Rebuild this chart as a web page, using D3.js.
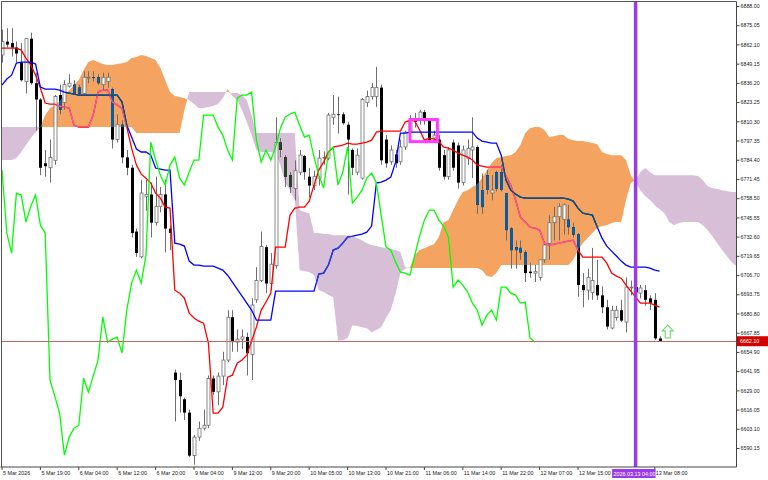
<!DOCTYPE html>
<html><head><meta charset="utf-8">
<script src="https://cdn.jsdelivr.net/npm/d3@7"></script>
<style>html,body{margin:0;padding:0;background:#fff;}svg{display:block;}</style>
</head><body>
<svg id="chart" width="768" height="480"></svg>
<script>
// ---------- DATA (hourly bars, 5 Mar 2026 11:00 .. 13 Mar 2026 09:00) ----------
const openP=[6855,6864,6863,6860,6850,6837,6866,6836,6825,6782,6779,6784,6828,6823,6834,6835,6833,6829,6839.5,6840,6840,6835,6837,6832,6798,6808,6786,6779,6736,6719,6759.5,6761,6742,6753,6761,6738,6641,6636,6623,6614,6585,6597.5,6603.5,6605.5,6637,6628,6638.6,6649.4,6678.3,6661.5,6663.5,6665,6653,6690,6703,6725.5,6701,6713,6796,6786,6774,6765,6776,6787,6773,6767,6772,6785.5,6785.5,6813,6815,6815,6808,6791,6776,6772,6823,6827,6827,6833,6798,6783,6788,6783,6793,6803,6812.5,6811,6816.5,6811,6799,6798,6787.5,6773,6796,6794,6769,6785.5,6791,6793,6764,6774,6762,6776,6776,6762,6738,6725.5,6725,6722,6709,6708,6705,6717,6728,6742,6746,6744,6744,6739,6734,6700,6696.5,6695,6700,6693,6685,6671,6678,6683,6675,6698,6698.6,6694.5,6696.5,6691,6690,6664];
const highP=[6872,6873,6873,6864,6863,6866,6870,6843,6826,6791,6798,6828,6835,6838,6842,6838,6835,6844,6844,6844,6842,6843,6843,6833,6815,6811,6791,6781,6738,6771,6771,6769,6773,6766,6771,6740,6643,6641,6624,6616,6599,6608,6616,6639,6639,6641,6655,6683,6683,6670,6670,6668,6691,6712,6736,6727,6721.5,6813,6799,6787.5,6776,6784,6791,6787.5,6779,6777,6791,6790,6816,6828,6827,6816.5,6810,6792,6792,6826,6831,6836,6847,6835,6801,6794,6791,6798,6804,6814.5,6816,6818,6818,6812.5,6804,6801,6791,6793,6798,6796,6794,6798,6813,6794,6775,6777.5,6774,6777,6781,6762,6739,6730,6730,6723.5,6715,6713.5,6717,6728,6747,6752.5,6755,6755,6754,6742,6735,6708,6711,6725,6717,6699,6690,6686,6686,6690,6705,6703,6703,6700,6700,6693,6694.5,6665.5];
const lowP=[6850,6860,6854,6850,6837,6829,6835,6804,6774,6773,6769,6781,6815,6818,6833,6828,6828,6828,6836,6837,6835,6831,6833,6792,6796,6782,6774,6732,6719,6718,6750,6732,6740,6749,6722,6723.5,6608,6614,6609,6584,6579,6595,6602,6603.5,6626,6619,6632.5,6648,6655,6655,6657,6639,6636,6688,6702,6694.5,6696.5,6711,6786,6766,6762,6757,6774,6771,6759,6764,6767,6781,6784,6808,6802,6808,6761,6774,6774,6771,6820,6825,6820,6781,6779,6781,6779,6781,6791,6802,6806,6808,6808,6796,6796,6777,6771,6771,6777,6765,6767,6781,6772,6748,6748,6761,6757,6763,6763,6730,6711,6711,6717,6702,6705,6702,6703,6715,6717,6730,6730,6734,6734,6732,6692,6685,6690,6690,6690,6681,6670,6670,6676,6675,6668,6693,6690,6691,6686,6683,6663,6661.5];
const closeP=[6864,6862,6860,6856,6838,6866,6836,6825,6779,6780,6786,6827,6818,6835,6836,6829,6829,6840,6840,6839.5,6836,6840,6840,6798,6808,6786,6779,6735,6721.5,6762,6761,6742,6753,6761,6738,6735,6636,6625,6614,6585,6597.5,6603.5,6605.5,6637,6628,6638.6,6649.4,6678.3,6661.5,6663.5,6665,6654,6686.5,6703,6726,6701,6714,6796,6791,6773,6766,6777,6787.5,6776,6767,6773,6785.5,6786,6814.5,6815,6814.5,6809,6798,6779,6787.5,6825,6827,6833,6833,6784,6782,6791,6782,6793,6803,6811,6810,6816.5,6812.5,6797.6,6801,6779,6773,6791,6779,6769,6791,6792,6793,6754,6752.5,6764,6764,6765,6764,6737,6723.5,6723.5,6722,6708,6708,6709,6717,6727,6742,6746,6753,6754,6739,6734,6700,6696.5,6705,6703,6693,6685,6672,6683,6683,6676,6698.6,6698.6,6695,6698,6690,6688,6664,6662.1];
const tenkan=[6859.6,6859.6,6859.6,6859.6,6858.3,6852.9,6848.2,6841.4,6832.7,6822.6,6821.9,6821.9,6820.6,6819.9,6819.2,6807.7,6806.4,6806.4,6806.4,6814.5,6830.0,6831.3,6831.3,6823.3,6821.2,6819.2,6806.4,6792.2,6780.8,6774.7,6772.0,6768.7,6761.9,6758.5,6752.5,6751.8,6696.5,6694.5,6691.1,6681.0,6677.7,6675.6,6674.3,6660.8,6613.6,6613.6,6617.7,6637.9,6639.2,6647.3,6649.4,6652.7,6662.2,6671.6,6683.1,6688.5,6694.5,6725.5,6725.5,6725.5,6747.1,6751.8,6752.5,6752.5,6756.5,6767.3,6777.4,6782.8,6789.6,6792.9,6793.6,6794.3,6795.6,6794.9,6794.9,6795.6,6796.3,6797.6,6803.0,6803.7,6803.7,6803.7,6803.7,6803.7,6809.8,6811.1,6810.4,6804.4,6797.6,6799.0,6798.3,6797.0,6792.9,6792.2,6790.9,6788.9,6787.5,6786.2,6784.2,6780.8,6780.1,6779.4,6779.4,6779.4,6779.4,6773.4,6767.3,6757.2,6745.7,6742.4,6739.0,6738.3,6737.0,6728.2,6726.9,6727.5,6728.2,6728.9,6729.6,6730.2,6723.5,6718.8,6718.8,6718.8,6718.8,6718.8,6714.7,6708.0,6706.0,6704.6,6699.9,6695.9,6691.8,6687.8,6687.8,6687.8,6686.4,6685.1];
const kijun=[6834.7,6838.8,6841.4,6849.5,6850.2,6850.2,6850.2,6848.9,6833.4,6832.0,6832.0,6832.0,6831.3,6830.0,6829.3,6828.6,6828.0,6828.0,6828.0,6828.0,6828.0,6828.0,6828.0,6828.0,6828.0,6823.3,6807.7,6799.7,6791.6,6789.6,6789.6,6787.5,6778.8,6778.1,6777.4,6777.4,6728.2,6727.5,6726.2,6716.1,6713.4,6713.4,6712.7,6712.7,6712.7,6711.4,6710.0,6706.6,6701.9,6697.2,6692.5,6687.8,6683.1,6676.3,6676.3,6676.3,6676.3,6695.9,6695.9,6695.9,6695.9,6695.9,6695.9,6695.9,6695.9,6695.9,6707.3,6708.0,6713.4,6723.5,6724.8,6728.2,6732.3,6732.9,6733.6,6734.3,6735.6,6739.7,6768.7,6769.3,6770.7,6772.7,6782.8,6802.4,6802.4,6803.0,6803.0,6803.0,6803.0,6803.0,6803.0,6803.0,6803.0,6803.0,6803.0,6803.0,6803.0,6803.0,6803.0,6799.0,6797.0,6796.3,6795.6,6795.6,6787.5,6770.7,6763.9,6761.2,6759.2,6758.5,6758.5,6758.5,6758.5,6758.5,6758.5,6758.5,6758.5,6758.5,6757.9,6756.5,6751.8,6748.4,6747.8,6747.1,6739.0,6731.6,6726.2,6722.8,6719.5,6716.1,6713.4,6712.0,6712.0,6712.0,6712.0,6711.4,6710.0,6709.3];
const chikou=[6777.4,6735.0,6721.5,6761.9,6760.6,6742.4,6753.2,6760.6,6740.3,6735.0,6635.9,6625.1,6613.6,6585.3,6597.5,6603.5,6605.5,6637.2,6627.8,6638.6,6649.4,6678.3,6661.5,6663.5,6664.9,6654.1,6683.1,6701.3,6710.0,6701.3,6720.1,6796.3,6784.2,6774.0,6767.3,6780.8,6786.2,6772.0,6767.3,6776.1,6784.2,6784.2,6814.5,6814.5,6814.5,6806.4,6801.0,6790.9,6784.2,6825.9,6828.0,6828.0,6830.0,6797.6,6782.8,6790.9,6784.2,6792.9,6805.7,6813.1,6815.2,6816.5,6807.7,6799.7,6801.0,6786.2,6774.0,6765.3,6789.6,6792.9,6767.3,6776.1,6792.9,6755.2,6759.2,6763.9,6772.0,6775.4,6768.7,6747.1,6725.5,6723.5,6715.4,6708.7,6708.0,6706.6,6720.1,6732.9,6743.7,6750.5,6750.5,6743.7,6739.7,6732.3,6698.6,6703.3,6699.9,6695.2,6687.8,6683.1,6672.9,6679.7,6683.1,6676.3,6698.6,6698.6,6694.5,6693.2,6687.8,6688.5,6664.2,6661.5];
const spanA=[6784.2,6784.2,6784.2,6785.5,6789.6,6794.3,6799.0,6803.0,6806.4,6814.5,6819.2,6821.2,6823.9,6828.0,6831.3,6834.7,6838.1,6844.8,6850.2,6851.6,6850.2,6848.9,6848.2,6848.2,6848.9,6849.5,6850.2,6852.9,6853.6,6854.9,6854.3,6852.9,6851.6,6846.2,6838.1,6830.0,6827.3,6826.6,6825.9,6824.6,6821.9,6819.2,6819.2,6819.9,6820.6,6821.9,6825.9,6832.0,6827.3,6824.6,6817.9,6809.8,6801.0,6790.9,6789.6,6789.6,6789.6,6789.6,6780.8,6768.7,6763.9,6757.2,6710.0,6709.3,6708.7,6706.6,6696.5,6695.2,6693.2,6691.8,6662.8,6662.8,6664.2,6672.9,6672.3,6671.6,6670.9,6668.2,6669.6,6671.6,6677.7,6683.1,6694.5,6708.0,6711.0,6712.0,6720.1,6723.5,6724.8,6726.2,6727.5,6732.3,6742.4,6743.7,6750.5,6757.2,6762.6,6763.9,6766.0,6768.0,6772.0,6777.4,6782.1,6785.5,6786.2,6786.9,6787.5,6789.6,6794.3,6802.4,6805.7,6806.4,6806.4,6804.4,6799.7,6800.3,6801.0,6801.0,6798.3,6797.6,6797.0,6797.0,6796.3,6795.6,6794.9,6789.6,6788.2,6787.5,6787.5,6787.5,6784.2,6774.0,6769.3,6763.9,6759.9,6757.2,6753.8,6751.1,6748.4,6742.4,6740.3,6741.7,6742.4,6742.4,6742.4,6742.4,6740.3,6737.0,6732.9,6728.2,6723.5,6719.5,6715.4,6712.7];
const spanB=[6806.4,6806.4,6806.4,6806.4,6806.4,6806.4,6806.4,6806.4,6806.4,6806.4,6806.4,6806.4,6806.4,6806.4,6806.4,6806.4,6806.4,6806.4,6806.4,6806.4,6806.4,6806.4,6806.4,6806.4,6806.4,6806.4,6806.4,6806.4,6802.4,6802.4,6802.4,6802.4,6802.4,6802.4,6802.4,6802.4,6802.4,6802.4,6817.9,6830.0,6830.0,6830.0,6830.0,6830.0,6830.0,6830.0,6830.0,6830.0,6829.3,6829.3,6828.0,6824.6,6814.5,6802.4,6802.4,6802.4,6802.4,6802.4,6802.4,6802.4,6802.4,6802.4,6750.5,6749.1,6748.4,6735.0,6735.0,6734.3,6734.3,6733.6,6733.6,6733.6,6733.6,6732.9,6731.6,6730.2,6728.2,6726.9,6726.2,6725.5,6724.8,6724.2,6723.5,6722.2,6712.0,6711.4,6711.4,6711.4,6711.4,6711.4,6711.4,6711.4,6711.4,6711.4,6711.4,6711.4,6711.4,6711.4,6711.4,6711.4,6710.0,6706.0,6705.3,6708.0,6713.4,6713.4,6713.4,6713.4,6713.4,6713.4,6713.4,6713.4,6713.4,6713.4,6713.4,6713.4,6713.4,6713.4,6713.4,6716.8,6723.5,6728.2,6731.6,6735.0,6738.3,6739.7,6740.3,6741.7,6742.4,6742.4,6757.2,6768.7,6770.7,6776.1,6778.8,6776.1,6774.0,6774.0,6774.0,6774.0,6774.0,6774.0,6774.0,6774.0,6774.0,6773.4,6770.7,6766.6,6765.3,6764.6,6763.9,6763.3,6762.6,6762.6];
const priceTicks=[6888.00,6875.05,6862.10,6849.15,6836.20,6823.25,6810.30,6797.35,6784.40,6771.45,6758.50,6745.55,6732.60,6719.65,6706.70,6693.75,6680.80,6667.85,6654.90,6641.95,6629.00,6616.05,6603.10,6590.15];
const timeTickIdx=[0,8,16,24,32,40,48,56,64,72,80,88,96,104,112,120,136];
const timeTickLabels=["5 Mar 2026","5 Mar 19:00","6 Mar 04:00","6 Mar 12:00","6 Mar 20:00","9 Mar 04:00","9 Mar 12:00","9 Mar 20:00","10 Mar 05:00","10 Mar 13:00","10 Mar 21:00","11 Mar 06:00","11 Mar 14:00","11 Mar 22:00","12 Mar 07:00","12 Mar 15:00","13 Mar 08:00"];
const lastPrice=6662.10;
const markerIdx=132, markerLabel="2026.03.13 04:00";
const boxIdx=[85,90.7], boxPrice=[6811.5,6796.6];
const arrowIdx=138.7, arrowPrice=[6673.0,6664.3];

// ---------- SETUP ----------
const W=768,H=480, L=1, R=736, T=2, B=467;
const svg=d3.select("#chart");
const x=d3.scaleLinear().domain([0,153]).range([2,2+4.8*153]);
const y=d3.scaleLinear().domain([6590.15,6888.00]).range([448,6]);
const FONT="'Liberation Sans', Arial, sans-serif";
const defs=svg.append("defs");
defs.append("clipPath").attr("id","plot").append("rect").attr("x",L+0.5).attr("y",T).attr("width",R-L-0.5).attr("height",B-T);
const idxA=d3.range(spanA.length);
defs.append("clipPath").attr("id","aboveB").append("path")
  .attr("d",d3.area().x(i=>x(i)).y0(0).y1(i=>y(spanB[i]))(idxA));
defs.append("clipPath").attr("id","aboveA").append("path")
  .attr("d",d3.area().x(i=>x(i)).y0(0).y1(i=>y(spanA[i]))(idxA));
defs.append("clipPath").attr("id","belowA").append("path")
  .attr("d",d3.area().x(i=>x(i)).y0(H).y1(i=>y(spanA[i]))(idxA));
defs.append("clipPath").attr("id","belowB").append("path")
  .attr("d",d3.area().x(i=>x(i)).y0(H).y1(i=>y(spanB[i]))(idxA));

const plot=svg.append("g").attr("clip-path","url(#plot)");
const ORANGE=[244,164,96], THISTLE=[216,191,216];
const rgb=a=>`rgb(${a[0]},${a[1]},${a[2]})`;
function over(cloud,hex){const c=d3.rgb(hex);return rgb([255-(cloud[0]^c.r),255-(cloud[1]^c.g),255-(cloud[2]^c.b)]);}

// cloud
plot.append("g").attr("clip-path","url(#aboveB)").append("path")
  .attr("d",d3.area().x(i=>x(i)).y0(H).y1(i=>y(spanA[i]))(idxA)).attr("fill",rgb(ORANGE));
plot.append("g").attr("clip-path","url(#aboveA)").append("path")
  .attr("d",d3.area().x(i=>x(i)).y0(H).y1(i=>y(spanB[i]))(idxA)).attr("fill",rgb(THISTLE));

const idx=d3.range(openP.length);
function drawMarks(g,col,full){
  if(full){
    g.append("g").selectAll("line").data(idx).join("line")
      .attr("x1",i=>Math.round(x(i))+0.5).attr("x2",i=>Math.round(x(i))+0.5)
      .attr("y1",i=>y(highP[i])).attr("y2",i=>y(lowP[i]))
      .attr("stroke","#6e6e6e").attr("stroke-width",1);
  }
  g.append("g").selectAll("rect").data(idx.filter(i=>full||closeP[i]<openP[i])).join("rect")
    .attr("x",i=>Math.round(x(i))-1)
    .attr("y",i=>y(Math.max(openP[i],closeP[i])))
    .attr("width",3)
    .attr("height",i=>Math.max(0.8,Math.abs(y(openP[i])-y(closeP[i]))))
    .attr("fill",i=>closeP[i]>=openP[i]?"#ffffff":col("#000000"))
    .attr("stroke",i=>closeP[i]>=openP[i]?"#707070":"none").attr("stroke-width",0.8);
  g.append("path").datum(idx).attr("fill","none").attr("stroke",col("#ff0000")).attr("stroke-width",1.3)
    .attr("d",d3.line().x(i=>x(i)).y(i=>y(tenkan[i])));
  g.append("path").datum(idx).attr("fill","none").attr("stroke",col("#0000ff")).attr("stroke-width",1.3)
    .attr("d",d3.line().x(i=>x(i)).y(i=>y(kijun[i])));
}
drawMarks(plot.append("g"),c=>c,true);
drawMarks(plot.append("g").attr("clip-path","url(#aboveB)").append("g").attr("clip-path","url(#belowA)"),c=>over(ORANGE,c),false);
drawMarks(plot.append("g").attr("clip-path","url(#aboveA)").append("g").attr("clip-path","url(#belowB)"),c=>over(THISTLE,c),false);

// chikou
plot.append("path").datum(d3.range(chikou.length)).attr("fill","none").attr("stroke","#00ff00").attr("stroke-width",1.3)
  .attr("d",d3.line().x(i=>x(i)).y(i=>y(chikou[i])));

// bid line
plot.append("line").attr("x1",L).attr("x2",R).attr("y1",Math.round(y(lastPrice))+0.5).attr("y2",Math.round(y(lastPrice))+0.5)
  .attr("stroke","#c86464").attr("stroke-width",1);
// box object
plot.append("rect").attr("x",x(boxIdx[0])).attr("y",y(boxPrice[0]))
  .attr("width",x(boxIdx[1])-x(boxIdx[0])).attr("height",y(boxPrice[1])-y(boxPrice[0]))
  .attr("fill","none").attr("stroke","#ff3cff").attr("stroke-width",3);
// arrow
{const cx=x(arrowIdx), yt=y(arrowPrice[0]), yb=y(arrowPrice[1]), hm=yt+(yb-yt)*0.45;
 plot.append("path").attr("d",`M${cx},${yt}L${cx+5.5},${hm}L${cx+2.5},${hm}L${cx+2.5},${yb}L${cx-2.5},${yb}L${cx-2.5},${hm}L${cx-5.5},${hm}Z`)
  .attr("fill","#fff").attr("stroke","#66dd66").attr("stroke-width",1.1);}
// marker vertical line
svg.append("line").attr("x1",x(markerIdx)).attr("x2",x(markerIdx)).attr("y1",T).attr("y2",B)
  .attr("stroke","#9b3be8").attr("stroke-width",3.5);

// frame
svg.append("path").attr("d",`M${L+0.5},${B}V${T-0.5}H${R+0.5}V${B}`).attr("fill","none").attr("stroke","#555").attr("stroke-width",1);

// price axis
const yAxis=d3.axisRight(y).tickValues(priceTicks).tickFormat(d3.format(".2f")).tickSize(3).tickPadding(1);
const ga=svg.append("g").attr("transform",`translate(${R+0.5},0)`).call(yAxis);
ga.select(".domain").attr("d",`M0,${T}V${B}`).attr("stroke","#444");
ga.selectAll("text").attr("font-family",FONT).attr("font-size",5.3).attr("fill","#222");
ga.selectAll("line").attr("stroke","#444");

// time axis
const xAxis=d3.axisBottom(x).tickValues(timeTickIdx).tickFormat((d,k)=>timeTickLabels[k]).tickSize(3);
const gx=svg.append("g").attr("transform",`translate(-0.5,${B})`).call(xAxis);
gx.select(".domain").attr("d",`M${L},0H${R+1}`).attr("stroke","#444");
gx.selectAll("line").attr("stroke","#444");
gx.selectAll("text").attr("font-family",FONT).attr("font-size",5.4).attr("fill","#222")
  .attr("text-anchor","start").attr("dx",1).attr("y",4).attr("dy","0.71em");

// last price label
{const yy=y(lastPrice);
 svg.append("rect").attr("x",R+1).attr("y",yy-5).attr("width",W-R-1).attr("height",10).attr("fill","#d40000");
 svg.append("text").attr("x",R+4).attr("y",yy+2).text(d3.format(".2f")(lastPrice))
   .attr("font-family",FONT).attr("font-size",5.3).attr("fill","#fff");}
// marker time label
{const xx=x(markerIdx);
 svg.append("rect").attr("x",xx-23.5).attr("y",B+2).attr("width",43.5).attr("height",9).attr("fill","#9b3be8");
 svg.append("text").attr("x",xx-22).attr("y",B+8.8).text(markerLabel)
   .attr("font-family",FONT).attr("font-size",5.4).attr("fill","#fff");}
</script>
</body></html>
